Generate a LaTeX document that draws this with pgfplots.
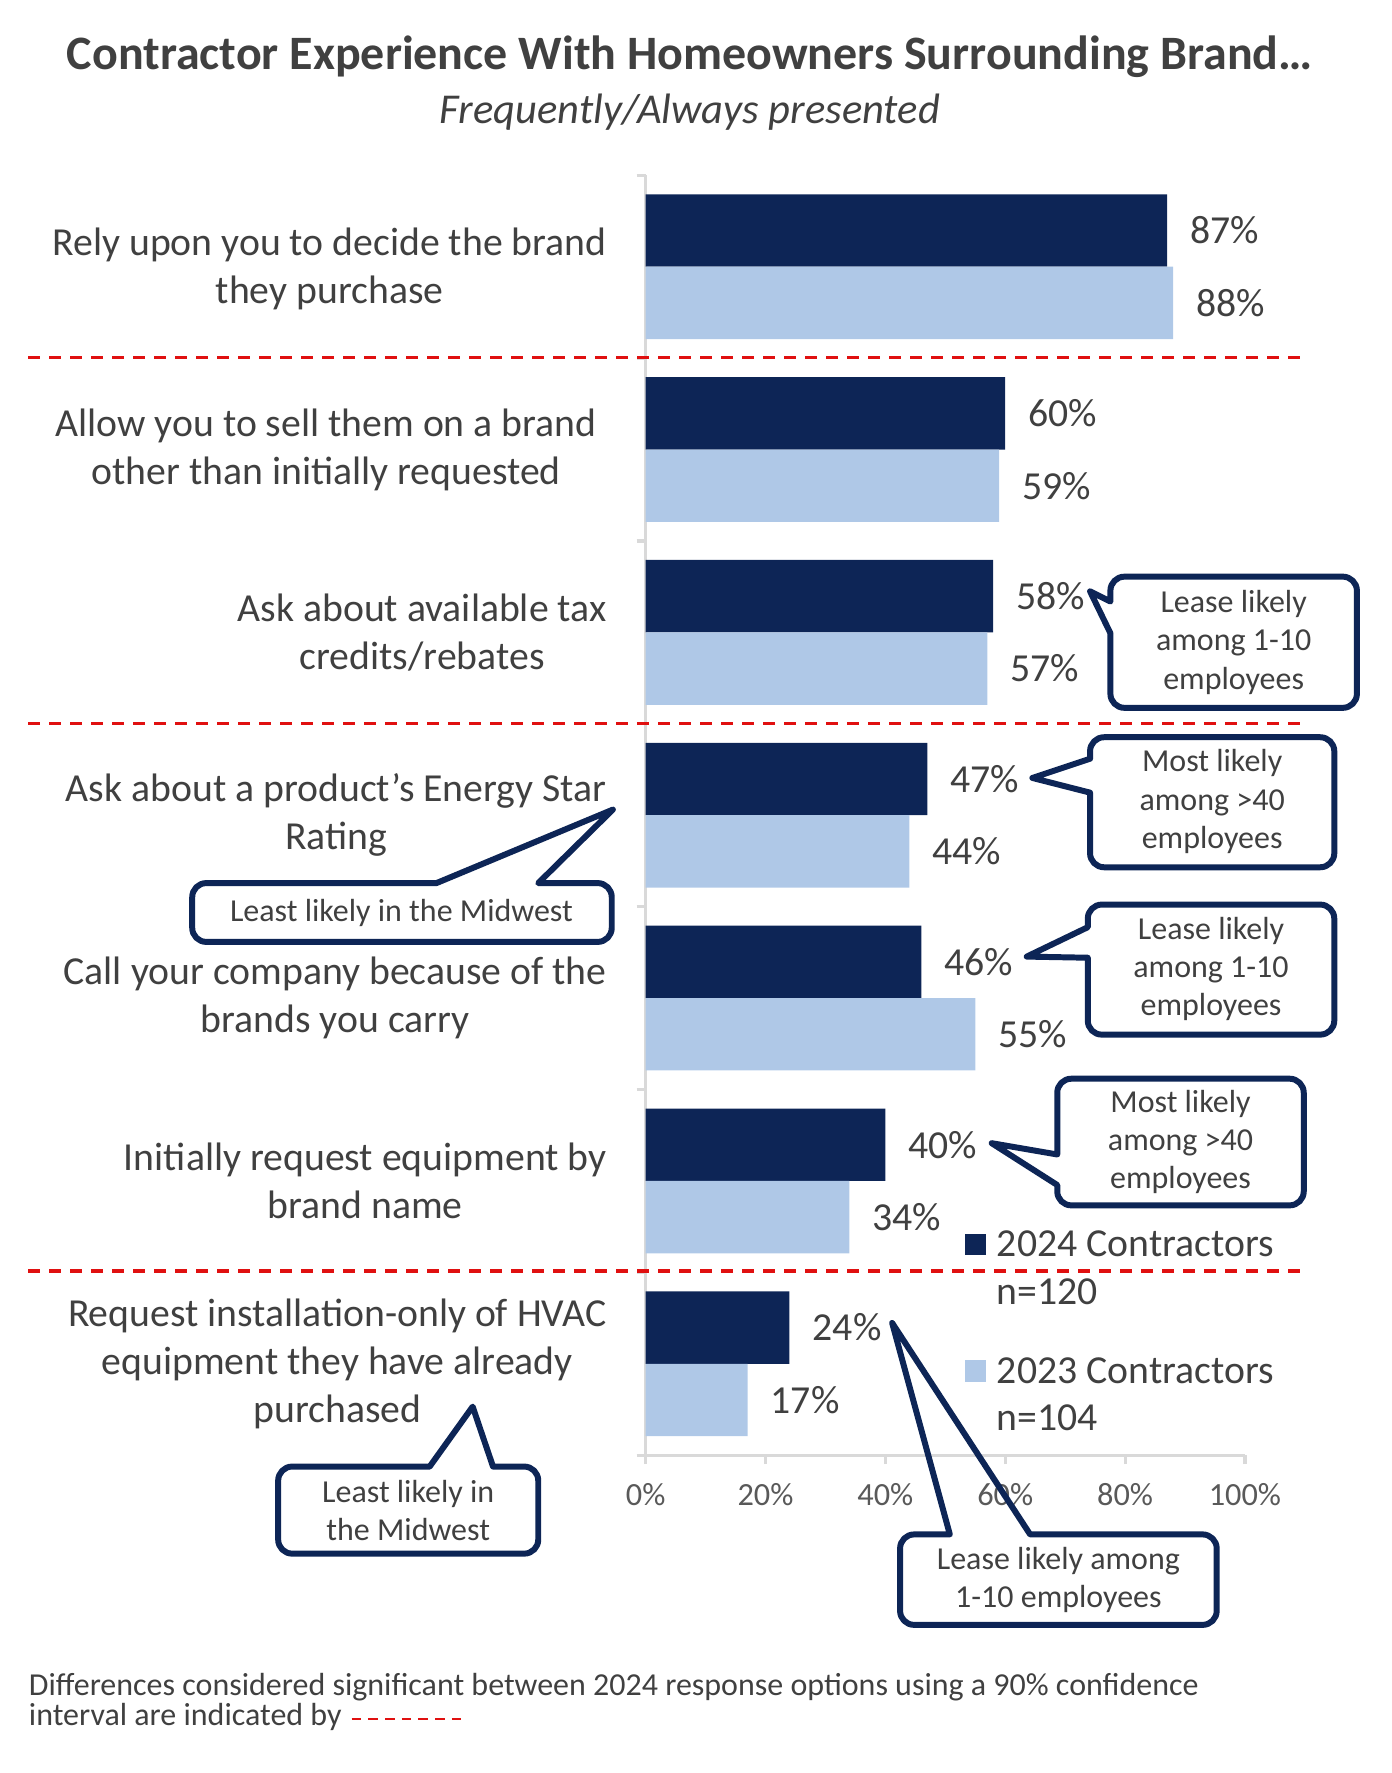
\documentclass[border=0pt]{standalone}
\usepackage{fontspec}
\setmainfont{Carlito}
\usepackage{pgfplots}
\pgfplotsset{compat=1.18}
\definecolor{navy}{HTML}{0D2556}
\definecolor{lightb}{HTML}{AFC8E7}
\definecolor{txt}{HTML}{404040}
\definecolor{tickc}{HTML}{595959}
\definecolor{axisgray}{HTML}{D9D9D9}
\definecolor{sigred}{HTML}{E01010}
\newcommand{\catfont}{\fontsize{11.3}{13.7}\selectfont}
\newcommand{\cofont}{\fontsize{9.1}{10.9}\selectfont}
\tikzset{callout/.style={draw=navy, line width=1.7pt, fill=white, line join=round},
  cotext/.style={font=\cofont, text=txt, align=center},
  catlab/.style={anchor=east, align=center, font=\catfont, text=txt, inner sep=0pt, xshift=-3.84mm}}
\begin{document}
\begin{tikzpicture}
\path[use as bounding box] (0,0) rectangle (139.2mm,177.31mm);

\begin{axis}[
  at={(64.57mm,31.78mm)}, anchor=south west,
  scale only axis, width=59.93mm, height=128.0mm,
  xbar, xmin=0, xmax=100, ymin=-0.5, ymax=6.5,
  bar width=0.396,
  axis x line*=bottom, axis y line*=left,
  axis line style={axisgray, line width=0.9pt},
  xtick={0,20,40,60,80,100},
  xticklabels={0\%,20\%,40\%,60\%,80\%,100\%},
  xticklabel style={font=\fontsize{9.2}{10}\selectfont, text=tickc, yshift=-0.65mm},
  ytick={-0.5,0.5,1.5,2.5,3.5,4.5,5.5,6.5},
  yticklabels={},
  tick align=outside, major tick length=0.9mm,
  tick style={axisgray, line width=0.9pt},
  point meta=x,
  nodes near coords={\pgfmathprintnumber[assume math mode=true]{\pgfplotspointmeta}\%},
  nodes near coords style={anchor=west, inner sep=0pt, xshift=2.26mm, font=\catfont, text=txt},
  clip=false,
]
\addplot[fill=navy, draw=none, bar shift=0.198] coordinates {(87,6) (60,5) (58,4) (47,3) (46,2) (40,1) (24,0)};
\addplot[fill=lightb, draw=none, bar shift=-0.198] coordinates {(88,6) (59,5) (57,4) (44,3) (55,2) (34,1) (17,0)};
\node[catlab, yshift=-0.25mm] at (axis cs:0,6) {Rely upon you to decide the brand\\they purchase};
\node[catlab, xshift=-1mm] at (axis cs:0,5) {Allow you to sell them on a brand\\other than initially requested};
\node[catlab] at (axis cs:0,4) {Ask about available tax\\credits/rebates};
\node[catlab] at (axis cs:0,3) {Ask about a product’s Energy Star\\Rating};
\node[catlab] at (axis cs:0,2) {Call your company because of the\\brands you carry};
\node[catlab] at (axis cs:0,1) {Initially request equipment by\\brand name};
\node[catlab] at (axis cs:0,0) {Request installation-only of HVAC\\equipment they have already\\purchased};
\end{axis}

\begin{scope}[x=0.11308mm, y=-0.11308mm, shift={(0,177.31mm)}]
\node[font=\bfseries\fontsize{13.65}{16}\selectfont, text=txt] at (610,50) {Contractor Experience With Homeowners Surrounding Brand…};
\node[font=\itshape\fontsize{12.1}{14}\selectfont, text=txt] at (610,99) {Frequently/Always presented};

% significance lines
\foreach \yy in {316,640,1124}
  \draw[sigred, line width=0.9pt, dash pattern=on 1.15mm off 0.95mm] (25,\yy) -- (1153,\yy);

% legend
\fill[navy] (853,1091) rectangle (872,1110);
\node[anchor=west, inner sep=0pt, font=\catfont, text=txt] at (881,1100) {2024 Contractors};
\node[anchor=west, inner sep=0pt, font=\catfont, text=txt] at (881,1142) {n=120};
\fill[lightb] (853,1203) rectangle (872,1222);
\node[anchor=west, inner sep=0pt, font=\catfont, text=txt] at (881,1212) {2023 Contractors};
\node[anchor=west, inner sep=0pt, font=\catfont, text=txt] at (881,1254) {n=104};

% callouts
% C1
\draw[callout] (1090,510) [rounded corners=1.4mm] -- (1200,510) -- (1200,626) -- (982,626) [sharp corners] -- (982,560) -- (964,523) -- (982,532) [rounded corners=1.4mm] -- (982,510) -- cycle;
\node[cotext] at (1091,568) {Lease likely\\among 1-10\\employees};
% C2
\draw[callout] (1070,652) [rounded corners=1.4mm] -- (1180,652) -- (1180,767) -- (964,767) [sharp corners] -- (964,701) -- (913,688) -- (964,671) [rounded corners=1.4mm] -- (964,652) -- cycle;
\node[cotext] at (1072,709) {Most likely\\among >40\\employees};
% C4
\draw[callout] (1070,800) [rounded corners=1.4mm] -- (1180,800) -- (1180,915) -- (962,915) [sharp corners] -- (962,847) -- (908,846) -- (962,820) [rounded corners=1.4mm] -- (962,800) -- cycle;
\node[cotext] at (1071,857) {Lease likely\\among 1-10\\employees};
% C5
\draw[callout] (1045,954) [rounded corners=1.4mm] -- (1153,954) -- (1153,1066) -- (935,1066) [sharp corners] -- (935,1048) -- (877,1011) -- (935,1021) [rounded corners=1.4mm] -- (935,954) -- cycle;
\node[cotext] at (1044,1010) {Most likely\\among >40\\employees};
% C3
\draw[callout] (300,781) [sharp corners] -- (386,781) -- (542,716) -- (476,781) [rounded corners=1.4mm] -- (541,781) -- (541,833) -- (170,833) -- (170,781) [sharp corners] -- cycle;
\node[cotext] at (355,807) {Least likely in the Midwest};
% C6
\draw[callout] (300,1297) [sharp corners] -- (380,1297) -- (418,1244) -- (436,1297) [rounded corners=1.4mm] -- (476,1297) -- (476,1374) -- (246,1374) -- (246,1297) [sharp corners] -- cycle;
\node[cotext] at (361,1336) {Least likely in\\the Midwest};
% C7 (pointer crosses the 60% tick label, which stays visible)
\draw[callout, fill=none] (1000,1357) [rounded corners=1.4mm] -- (1076,1357) -- (1076,1437) -- (796,1437) -- (796,1357) [sharp corners] -- (840,1357) -- (789,1170) -- (911,1357) [rounded corners=1.4mm] -- cycle;
\node[cotext] at (936,1397) {Lease likely among\\1-10 employees};

% footnote
\node[anchor=west, inner sep=0pt, font=\fontsize{9.1}{10}\selectfont, text=txt] at (25,1492) {Differences considered significant between 2024 response options using a 90\% confidence};
\node[anchor=west, inner sep=0pt, font=\fontsize{9.1}{10}\selectfont, text=txt] at (25,1518) {interval are indicated by};
\draw[sigred, line width=0.6pt, dash pattern=on 0.95mm off 0.72mm] (311,1520) -- (410,1520);
\end{scope}
\end{tikzpicture}
\end{document}
